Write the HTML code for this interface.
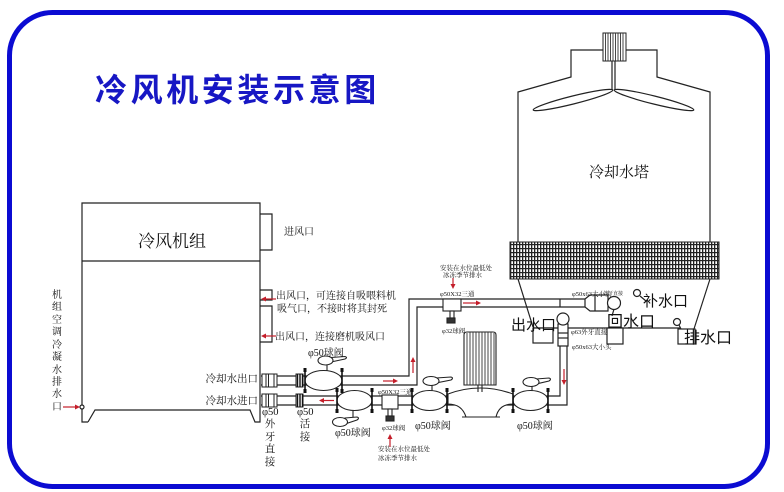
<!DOCTYPE html>
<html><head><meta charset="utf-8">
<style>
html,body{margin:0;padding:0;background:#fff;}
svg{display:block;}
.s{font-family:"Liberation Serif","Noto Serif CJK SC",serif;fill:#111;}
.h{font-family:"Liberation Sans","Noto Sans CJK SC",sans-serif;fill:#111;}
</style></head><body>
<svg width="784" height="492" viewBox="0 0 784 492" xmlns="http://www.w3.org/2000/svg">
<defs>
<pattern id="fp" width="3" height="4" patternUnits="userSpaceOnUse">
<rect width="3" height="4" fill="#fff"/>
<rect x="0" y="0" width="1.3" height="4" fill="#222"/>
<rect x="0" y="0" width="3" height="1.2" fill="#222"/>
</pattern>
</defs>
<rect width="784" height="492" fill="#fff"/>
<rect x="9.5" y="12.5" width="758" height="474" rx="43" fill="none" stroke="#0b0bd2" stroke-width="5"/>
<text x="95" y="101" font-family="'Liberation Sans','Noto Sans CJK SC',sans-serif" font-weight="700" font-size="32" letter-spacing="3.6" fill="#1717c4">冷风机安装示意图</text>

<!-- Cooling tower -->
<g stroke="#222" stroke-width="1.2" fill="none">
 <polyline points="518,242 518,92 571,77 571,50 657,50 657,77 710,92 710,242"/>
 <line x1="612" y1="61" x2="612" y2="90"/>
 <line x1="615" y1="61" x2="615" y2="90"/>
 <ellipse cx="573" cy="100" rx="41" ry="4" transform="rotate(-14 573 100)"/>
 <ellipse cx="654" cy="100" rx="41" ry="4" transform="rotate(14 654 100)"/>
</g>
<rect x="603" y="33" width="23" height="28" fill="#fff" stroke="#222"/>
<g stroke="#333" stroke-width="0.9">
 <line x1="605.5" y1="33" x2="605.5" y2="61"/><line x1="608" y1="33" x2="608" y2="61"/>
 <line x1="610.5" y1="33" x2="610.5" y2="61"/><line x1="613" y1="33" x2="613" y2="61"/>
 <line x1="615.5" y1="33" x2="615.5" y2="61"/><line x1="618" y1="33" x2="618" y2="61"/>
 <line x1="620.5" y1="33" x2="620.5" y2="61"/><line x1="623" y1="33" x2="623" y2="61"/>
</g>
<text class="s" x="619" y="177" font-size="15" text-anchor="middle">冷却水塔</text>
<rect x="510" y="242" width="209" height="37" fill="url(#fp)" stroke="#222"/>
<g stroke="#222" stroke-width="1.2" fill="none">
 <line x1="518" y1="279" x2="533" y2="327"/>
 <line x1="710" y1="279" x2="693" y2="332"/>
 <line x1="533" y1="328" x2="680" y2="328"/>
 <rect x="533" y="328" width="20" height="15" fill="#fff"/>
 <rect x="607" y="328" width="16" height="16" fill="#fff"/>
 <rect x="678" y="329" width="17" height="15" fill="#fff"/>
 <circle cx="637" cy="293" r="3.5" fill="#fff"/>
 <line x1="640" y1="296" x2="646" y2="301"/>
 <circle cx="677" cy="322" r="3.5" fill="#fff"/>
 <line x1="679" y1="325" x2="681" y2="329"/>
 <line x1="614" y1="309" x2="612" y2="316"/>
</g>
<text class="h" x="511" y="330" font-size="15">出水口</text>
<text class="h" x="607" y="327" font-size="16">回水口</text>
<text class="h" x="643" y="306" font-size="15">补水口</text>
<text class="h" x="684" y="343" font-size="16">排水口</text>

<!-- Pipes -->
<g stroke="#222" stroke-width="1.2" fill="none">
 <polyline points="261,376 409,376 409,299 585,299"/>
 <polyline points="261,385 417,385 417,307 585,307"/>
 <polyline points="261,396 560,396 560,346"/>
 <polyline points="261,405 567,405 567,346"/>
 <line x1="560" y1="299" x2="560" y2="307"/>
 <path d="M585,299 L590,295 L608,295 L608,311 L590,311 L585,307 Z" fill="#fff"/>
 <line x1="595" y1="295" x2="595" y2="311"/>
 <circle cx="614" cy="303" r="6.5" fill="#fff"/>
 <rect x="558" y="324" width="10" height="22" fill="#fff"/>
 <line x1="558" y1="333" x2="568" y2="333"/>
 <line x1="558" y1="338" x2="568" y2="338"/>
 <circle cx="563" cy="319" r="6" fill="#fff"/>
</g>

<!-- Left unit -->
<g stroke="#222" stroke-width="1.2" fill="none">
 <polyline points="88,422 82,422 82,203 260,203 260,422 255,422 250,410 95,410 88,422"/>
 <line x1="82" y1="261" x2="260" y2="261"/>
 <polyline points="260,214 272,214 272,250 260,250"/>
 <polyline points="260,290 272,290 272,300 260,300"/>
 <polyline points="260,306 272,306 272,342 260,342"/>
 <circle cx="82" cy="407" r="2" fill="#fff"/>
</g>
<text class="s" x="172" y="247" font-size="17" text-anchor="middle">冷风机组</text>
<text class="s" x="284" y="235" font-size="10">进风口</text>
<text class="s" x="276" y="299" font-size="10">出风口，可连接自吸喂料机</text>
<text class="s" x="277" y="312" font-size="10">吸气口，不接时将其封死</text>
<text class="s" x="275" y="340" font-size="10">出风口，连接磨机吸风口</text>
<g class="s" font-size="10" text-anchor="middle">
 <text x="57" y="298">机</text><text x="57" y="310">组</text><text x="57" y="323">空</text>
 <text x="57" y="335">调</text><text x="57" y="348">冷</text><text x="57" y="360">凝</text>
 <text x="57" y="373">水</text><text x="57" y="385">排</text><text x="57" y="397">水</text>
 <text x="57" y="410">口</text>
</g>
<text class="s" x="258" y="382" font-size="10.5" text-anchor="end">冷却水出口</text>
<text class="s" x="258" y="404" font-size="10.5" text-anchor="end">冷却水进口</text>

<!-- fittings near unit -->
<g stroke="#222" stroke-width="1">
 <rect x="262" y="374" width="15" height="13" fill="#fff"/>
 <line x1="266" y1="374" x2="266" y2="387"/><line x1="268.5" y1="374" x2="268.5" y2="387"/><line x1="274" y1="374" x2="274" y2="387"/>
 <rect x="262" y="394" width="15" height="13" fill="#fff"/>
 <line x1="266" y1="394" x2="266" y2="407"/><line x1="268.5" y1="394" x2="268.5" y2="407"/><line x1="274" y1="394" x2="274" y2="407"/>
 <rect x="296" y="374" width="7" height="13" fill="#fff"/>
 <rect x="296" y="394" width="7" height="13" fill="#fff"/>
</g>
<g stroke="#111" stroke-width="1.4">
 <line x1="297.5" y1="374" x2="297.5" y2="387"/><line x1="300" y1="374" x2="300" y2="387"/><line x1="302.5" y1="374" x2="302.5" y2="387"/>
 <line x1="297.5" y1="394" x2="297.5" y2="407"/><line x1="300" y1="394" x2="300" y2="407"/><line x1="302.5" y1="394" x2="302.5" y2="407"/>
</g>
<g class="s" font-size="10.5">
 <text x="262" y="415">φ50</text>
 <text x="297" y="415">φ50</text>
</g>
<g class="s" font-size="10.5" text-anchor="middle">
 <text x="270" y="427">外</text><text x="270" y="440">牙</text><text x="270" y="452">直</text><text x="270" y="465">接</text>
 <text x="305" y="427">活</text><text x="305" y="440">接</text>
</g>

<!-- Valves -->
<g stroke="#222" stroke-width="1.1" fill="#fff">
 <ellipse cx="323.5" cy="380.5" rx="18.5" ry="10"/>
 <ellipse cx="354.5" cy="400.5" rx="17.5" ry="10"/>
 <ellipse cx="429.5" cy="400.5" rx="17.5" ry="10"/>
 <ellipse cx="530.5" cy="400.5" rx="17.5" ry="10"/>
 <path d="M448,394 Q480,382 513,394 L513,404 Q499,404 496,417 L466,417 Q462,404 448,404 Z"/>
 <line x1="462" y1="417" x2="500" y2="417"/>
 <line x1="478" y1="385" x2="478" y2="392"/>
 <line x1="482" y1="385" x2="482" y2="392"/>
 <path d="M464,385 L464,335 Q464,332 467,332 L493,332 Q496,332 496,335 L496,385 Z"/>
 <line x1="327" y1="365" x2="327" y2="370.5"/>
 <line x1="353" y1="410.5" x2="353" y2="417"/>
 <line x1="432" y1="385" x2="432" y2="391"/>
 <line x1="532" y1="386" x2="532" y2="391"/>
 <path d="M331,357.5 L345,356.5 Q348,357.5 345,359 L331,362 Z"/>
 <ellipse cx="325.5" cy="360.5" rx="7.5" ry="4.5"/>
 <path d="M345,418 L357,417 Q360,418 357,420 L345,424 Z"/>
 <ellipse cx="340" cy="422" rx="7.5" ry="4.5"/>
 <path d="M436,378 L451,377 Q454,378 451,380 L436,383 Z"/>
 <ellipse cx="431" cy="381" rx="8" ry="4.5"/>
 <path d="M536,379 L549,378 Q552,379 549,381 L536,384 Z"/>
 <ellipse cx="531" cy="382" rx="8" ry="4.5"/>
 <rect x="443" y="299" width="18" height="12"/>
 <rect x="450" y="311" width="4" height="7"/>
 <rect x="447" y="318" width="8" height="5" fill="#333"/>
 <rect x="382" y="395" width="16" height="14"/>
 <rect x="388" y="409" width="4" height="7"/>
 <rect x="386" y="416" width="8" height="5" fill="#333"/>
</g>
<g stroke="#333" stroke-width="0.9">
 <line x1="467" y1="333" x2="467" y2="385"/><line x1="470" y1="332" x2="470" y2="385"/>
 <line x1="473" y1="332" x2="473" y2="385"/><line x1="476" y1="332" x2="476" y2="385"/>
 <line x1="479" y1="332" x2="479" y2="385"/><line x1="482" y1="332" x2="482" y2="385"/>
 <line x1="485" y1="332" x2="485" y2="385"/><line x1="488" y1="332" x2="488" y2="385"/>
 <line x1="491" y1="332" x2="491" y2="385"/><line x1="494" y1="333" x2="494" y2="385"/>
</g>
<g stroke="#111" stroke-width="1.6">
 <line x1="305" y1="370" x2="305" y2="391"/><line x1="342" y1="370" x2="342" y2="391"/>
 <line x1="337" y1="390" x2="337" y2="411"/><line x1="372" y1="390" x2="372" y2="411"/>
 <line x1="412" y1="390" x2="412" y2="411"/><line x1="447" y1="390" x2="447" y2="411"/>
 <line x1="513" y1="390" x2="513" y2="411"/><line x1="548" y1="390" x2="548" y2="411"/>
</g>
<g fill="#111">
 <rect x="303.5" y="368" width="3" height="4"/><rect x="303.5" y="389" width="3" height="4"/>
 <rect x="340.5" y="368" width="3" height="4"/><rect x="340.5" y="389" width="3" height="4"/>
 <rect x="335.5" y="388" width="3" height="4"/><rect x="335.5" y="409" width="3" height="4"/>
 <rect x="370.5" y="388" width="3" height="4"/><rect x="370.5" y="409" width="3" height="4"/>
 <rect x="410.5" y="388" width="3" height="4"/><rect x="410.5" y="409" width="3" height="4"/>
 <rect x="445.5" y="388" width="3" height="4"/><rect x="445.5" y="409" width="3" height="4"/>
 <rect x="511.5" y="388" width="3" height="4"/><rect x="511.5" y="409" width="3" height="4"/>
 <rect x="546.5" y="388" width="3" height="4"/><rect x="546.5" y="409" width="3" height="4"/>
</g>
<g class="s" font-size="10">
 <text x="308" y="356">φ50球阀</text>
 <text x="335" y="436">φ50球阀</text>
 <text x="415" y="429">φ50球阀</text>
 <text x="517" y="429">φ50球阀</text>
</g>
<g class="s" font-size="6.5">
 <text x="440" y="270">安装在水位最低处</text>
 <text x="443" y="277">冰冻季节排水</text>
 <text x="440" y="296">φ50X32三通</text>
 <text x="442" y="333">φ32球阀</text>
 <text x="378" y="394">φ50X32三通</text>
 <text x="382" y="430">φ32球阀</text>
 <text x="378" y="451">安装在水位最低处</text>
 <text x="378" y="460">冰冻季节排水</text>
 <text x="572" y="296">φ50x63大小头</text>
 <text x="571" y="334">φ63外牙直接</text>
 <text x="572" y="349">φ50x63大小头</text>
</g>
<text class="s" x="603" y="295" font-size="5">外牙直接</text>

<!-- red arrows -->
<g stroke="#c41e2a" stroke-width="1.2" fill="#c41e2a">
 <line x1="463" y1="303" x2="477" y2="303"/><polygon points="481,303 476,300.5 476,305.5" stroke="none"/>
 <line x1="453" y1="278" x2="453" y2="285"/><polygon points="453,289 450.5,284 455.5,284" stroke="none"/>
 <line x1="413" y1="373" x2="413" y2="361"/><polygon points="413,357 410.5,362 415.5,362" stroke="none"/>
 <line x1="383" y1="381" x2="394" y2="381"/><polygon points="398,381 393,378.5 393,383.5" stroke="none"/>
 <line x1="334" y1="400.5" x2="323" y2="400.5"/><polygon points="319,400.5 324,398 324,403" stroke="none"/>
 <line x1="564" y1="369" x2="564" y2="381"/><polygon points="564,385 561.5,380 566.5,380" stroke="none"/>
 <line x1="390" y1="447" x2="390" y2="438"/><polygon points="390,434 387.5,439 392.5,439" stroke="none"/>
 <line x1="276" y1="299" x2="265" y2="299"/><polygon points="261,299 266,296.5 266,301.5" stroke="none"/>
 <line x1="276" y1="336" x2="265" y2="336"/><polygon points="261,336 266,333.5 266,338.5" stroke="none"/>
 <line x1="63" y1="407" x2="76" y2="407"/><polygon points="80,407 75,404.5 75,409.5" stroke="none"/>
</g>
</svg>
</body></html>
